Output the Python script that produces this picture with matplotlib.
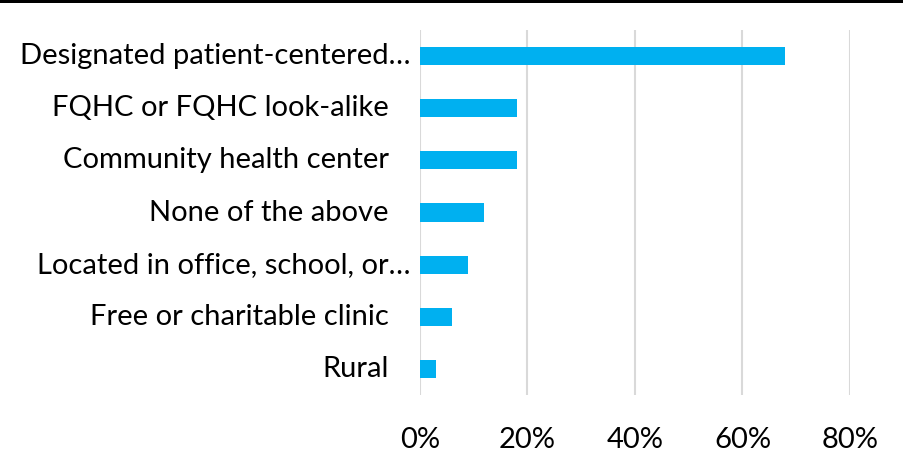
import matplotlib
matplotlib.use("Agg")
import matplotlib.pyplot as plt
from matplotlib.patches import Rectangle
import matplotlib.transforms as mtransforms

# Data (share of respondents)
categories = [
    "Designated patient-centered…",
    "FQHC or FQHC look-alike",
    "Community health center",
    "None of the above",
    "Located in office, school, or…",
    "Free or charitable clinic",
    "Rural",
]
values = [0.68, 0.18, 0.18, 0.12, 0.09, 0.06, 0.03]
x_ticks = [0.0, 0.2, 0.4, 0.6, 0.8]
x_tick_labels = ["0%", "20%", "40%", "60%", "80%"]

plt.rcParams['font.family'] = ['Lato', 'DejaVu Sans']

fig = plt.figure(figsize=(9.04, 4.68), dpi=100)
ax = fig.add_axes([420 / 904, 1 - 395 / 468, 430 / 904, 365 / 468])

y_pos = list(range(len(categories)))
ax.barh(y_pos, values, height=0.35, color="#00B0F0", zorder=3)

ax.set_xlim(0, 0.8)
ax.set_ylim(len(categories) - 0.5, -0.5)
ax.set_xticks(x_ticks)
ax.set_xticklabels(x_tick_labels, fontsize=21)
ax.tick_params(axis="x", length=0, pad=23)
ax.grid(axis="x", color="#D9D9D9", linewidth=1.5, zorder=0)
for s in ax.spines.values():
    s.set_visible(False)

# category labels: right-aligned, truncated ones stick out a little further
ax.set_yticks(y_pos)
ax.set_yticklabels([])
ax.tick_params(axis="y", length=0)
trans = mtransforms.blended_transform_factory(ax.transAxes, ax.transData)
for i, lab in enumerate(categories):
    off = 22 if lab.endswith("…") else 0
    t = mtransforms.offset_copy(trans, fig=fig, x=(-31 + off), y=0, units="dots")
    ax.text(0, i, lab, transform=t, ha="right", va="center", fontsize=21)

# black rule across the top of the image
fig.add_artist(Rectangle((0, 1 - 3 / 468), 1, 3 / 468, transform=fig.transFigure,
                         color="black", lw=0))

fig.savefig("out.png", dpi=100)
